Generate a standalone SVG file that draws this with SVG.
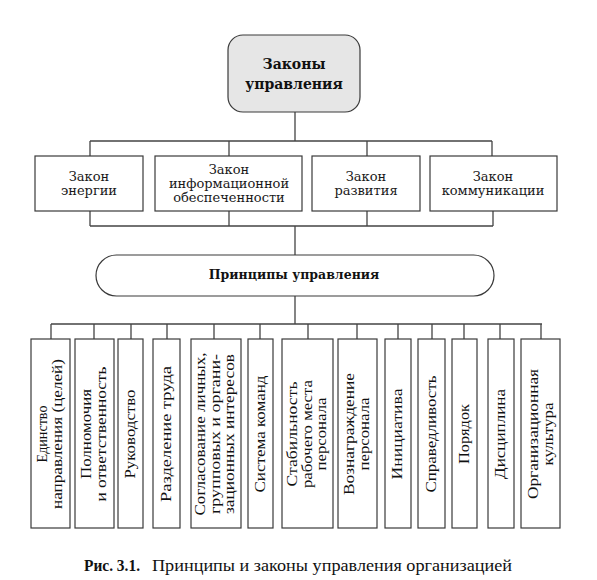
<svg xmlns="http://www.w3.org/2000/svg" width="597" height="580" viewBox="0 0 597 580">
<style>
.bg{fill:#ffffff}
.box{fill:#ffffff;stroke:#3a3a3a;stroke-width:1.2}
.top{fill:#e6e6e6;stroke:#3a3a3a;stroke-width:1.2}
.ln{fill:none;stroke:#444;stroke-width:1.3}
.law{font-family:"DejaVu Serif",serif;font-size:13px;fill:#1a1a1a;text-anchor:middle}
.hd{font-family:"DejaVu Serif",serif;font-size:12.5px;font-weight:bold;fill:#111;text-anchor:middle}
.hd2{font-family:"DejaVu Serif",serif;font-size:14px;font-weight:bold;fill:#111;text-anchor:middle}
.v{font-family:"Liberation Serif","Times New Roman",serif;font-size:15px;fill:#111;text-anchor:middle}
.cap{font-family:"Liberation Serif","Times New Roman",serif;font-size:17px;fill:#111}
</style>
<rect class="bg" x="0" y="0" width="597" height="580"/>
<g id="connectors">
<path class="ln" d="M295 112V141M90 141H492M90 141V156M229 141V156M367 141V156M492 141V156"/>
<path class="ln" d="M90 211V226M229 211V226M367 211V226M493 211V226M90 226H493M295 226V255"/>
<path class="ln" d="M295 296V324M51 324H542M51 324V339M94 324V339M131 324V339M167 324V339M214 324V339M260 324V339M308 324V339M357 324V339M398 324V339M432 324V339M464 324V339M500 324V339M541 324V339"/>
</g>
<g id="laws-root">
<rect class="top" x="228" y="35" width="132" height="77" rx="15"/>
<text class="hd2" x="294" y="69">Законы</text>
<text class="hd2" x="294" y="89">управления</text>
</g>
<g id="law-energy">
<rect class="box" x="35" y="156" width="108" height="55"/>
<text class="law" x="89" y="181">Закон</text>
<text class="law" x="89" y="195">энергии</text>
</g>
<g id="law-info">
<rect class="box" x="155" y="156" width="147" height="55"/>
<text class="law" x="229" y="174">Закон</text>
<text class="law" x="229" y="188">информационной</text>
<text class="law" x="229" y="202">обеспеченности</text>
</g>
<g id="law-development">
<rect class="box" x="312" y="156" width="108" height="55"/>
<text class="law" x="366" y="181">Закон</text>
<text class="law" x="366" y="195">развития</text>
</g>
<g id="law-communication">
<rect class="box" x="430" y="156" width="127" height="55"/>
<text class="law" x="493" y="181">Закон</text>
<text class="law" x="493" y="195">коммуникации</text>
</g>
<g id="principles">
<rect class="box" x="96" y="255" width="398" height="41" rx="20.5"/>
<text class="hd" x="294" y="279">Принципы управления</text>
</g>
<g id="p1">
<rect class="box" x="31" y="339" width="39" height="189"/>
<text class="v" transform="translate(47 434) rotate(-90)" textLength="57" lengthAdjust="spacingAndGlyphs">Единство</text>
<text class="v" transform="translate(62 434) rotate(-90)" textLength="150" lengthAdjust="spacingAndGlyphs">направления (целей)</text>
</g>
<g id="p2">
<rect class="box" x="75" y="339" width="39" height="189"/>
<text class="v" transform="translate(91 434) rotate(-90)" textLength="90" lengthAdjust="spacingAndGlyphs">Полномочия</text>
<text class="v" transform="translate(106 434) rotate(-90)" textLength="135" lengthAdjust="spacingAndGlyphs">и ответственность</text>
</g>
<g id="p3">
<rect class="box" x="118" y="339" width="25" height="189"/>
<text class="v" transform="translate(135 434) rotate(-90)" textLength="89" lengthAdjust="spacingAndGlyphs">Руководство</text>
</g>
<g id="p4">
<rect class="box" x="153" y="339" width="27" height="189"/>
<text class="v" transform="translate(170.5 434) rotate(-90)" textLength="136" lengthAdjust="spacingAndGlyphs">Разделение труда</text>
</g>
<g id="p5">
<rect class="box" x="191" y="339" width="50" height="189"/>
<text class="v" transform="translate(205 434) rotate(-90)" textLength="163" lengthAdjust="spacingAndGlyphs">Согласование личных,</text>
<text class="v" transform="translate(220 434) rotate(-90)" textLength="160" lengthAdjust="spacingAndGlyphs">групповых и органи-</text>
<text class="v" transform="translate(234 434) rotate(-90)" textLength="160" lengthAdjust="spacingAndGlyphs">зационных интересов</text>
</g>
<g id="p6">
<rect class="box" x="248" y="339" width="25" height="189"/>
<text class="v" transform="translate(264.5 434) rotate(-90)" textLength="117" lengthAdjust="spacingAndGlyphs">Система команд</text>
</g>
<g id="p7">
<rect class="box" x="282" y="339" width="51" height="189"/>
<text class="v" transform="translate(297 434) rotate(-90)" textLength="105" lengthAdjust="spacingAndGlyphs">Стабильность</text>
<text class="v" transform="translate(312 434) rotate(-90)" textLength="108" lengthAdjust="spacingAndGlyphs">рабочего места</text>
<text class="v" transform="translate(326 434) rotate(-90)" textLength="73" lengthAdjust="spacingAndGlyphs">персонала</text>
</g>
<g id="p8">
<rect class="box" x="338" y="339" width="39" height="189"/>
<text class="v" transform="translate(354 434) rotate(-90)" textLength="122" lengthAdjust="spacingAndGlyphs">Вознаграждение</text>
<text class="v" transform="translate(369 434) rotate(-90)" textLength="73" lengthAdjust="spacingAndGlyphs">персонала</text>
</g>
<g id="p9">
<rect class="box" x="385" y="339" width="26" height="189"/>
<text class="v" transform="translate(402 434) rotate(-90)" textLength="91" lengthAdjust="spacingAndGlyphs">Инициатива</text>
</g>
<g id="p10">
<rect class="box" x="418" y="339" width="27" height="189"/>
<text class="v" transform="translate(435.5 434) rotate(-90)" textLength="117" lengthAdjust="spacingAndGlyphs">Справедливость</text>
</g>
<g id="p11">
<rect class="box" x="452" y="339" width="25" height="189"/>
<text class="v" transform="translate(468.5 434) rotate(-90)" textLength="60" lengthAdjust="spacingAndGlyphs">Порядок</text>
</g>
<g id="p12">
<rect class="box" x="488" y="339" width="26" height="189"/>
<text class="v" transform="translate(504.5 434) rotate(-90)" textLength="90" lengthAdjust="spacingAndGlyphs">Дисциплина</text>
</g>
<g id="p13">
<rect class="box" x="521" y="339" width="39" height="189"/>
<text class="v" transform="translate(538 434) rotate(-90)" textLength="130" lengthAdjust="spacingAndGlyphs">Организационная</text>
<text class="v" transform="translate(553 434) rotate(-90)" textLength="63" lengthAdjust="spacingAndGlyphs">культура</text>
</g>
<g id="caption">
<text class="cap" x="84" y="571" font-weight="bold" textLength="56" lengthAdjust="spacingAndGlyphs">Рис. 3.1.</text>
<text class="cap" x="152" y="571" textLength="360" lengthAdjust="spacingAndGlyphs">Принципы и законы управления организацией</text>
</g>
</svg>
